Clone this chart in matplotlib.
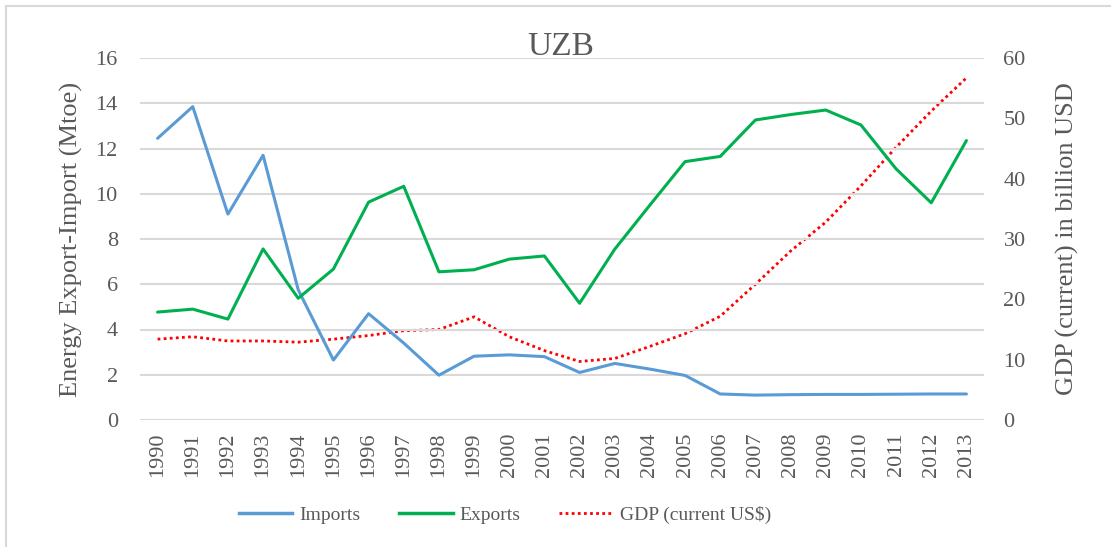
import matplotlib
matplotlib.use("Agg")
import matplotlib.pyplot as plt
from matplotlib.lines import Line2D

years = [str(y) for y in range(1990, 2014)]
imports = [12.45, 13.85, 9.1, 11.7, 5.75, 2.65, 4.7, 3.4, 1.98, 2.82, 2.88, 2.8,
           2.1, 2.5, 2.25, 1.97, 1.15, 1.1, 1.12, 1.13, 1.13, 1.14, 1.15, 1.15]
exports = [4.77, 4.9, 4.46, 7.56, 5.38, 6.67, 9.63, 10.33, 6.55, 6.64, 7.11, 7.25,
           5.16, 7.55, 9.5, 11.42, 11.65, 13.26, 13.5, 13.7, 13.04, 11.1, 9.6, 12.35]
gdp = [13.4, 13.8, 13.1, 13.1, 12.9, 13.4, 14.0, 14.8, 15.0, 17.1, 13.8, 11.5,
       9.7, 10.2, 12.2, 14.3, 17.2, 22.5, 28.0, 32.8, 38.8, 45.2, 51.2, 56.7]

left_ticks = [0, 2, 4, 6, 8, 10, 12, 14, 16]
right_ticks = [0, 10, 20, 30, 40, 50, 60]

plt.rcParams['font.family'] = ['Liberation Serif', 'DejaVu Serif']
txt = '#595959'

fig = plt.figure(figsize=(11.11, 5.47), dpi=100)
ax = fig.add_axes([140/1111, 1-420/547, (984-140)/1111, (420-58)/547])
ax2 = ax.twinx()

x = list(range(len(years)))
ax.plot(x, imports, color='#5B9BD5', lw=2.2, solid_capstyle='round', zorder=3)
ax.plot(x, exports, color='#00B050', lw=2.2, solid_capstyle='round', zorder=3)
ax2.plot(x, gdp, color='#FF0000', lw=2.0, linestyle=(0, (1, 1.2)), zorder=3)

ax.set_xlim(-0.5, len(years) - 0.5)
ax.set_ylim(0, 16)
ax2.set_ylim(0, 60)
ax.set_yticks(left_ticks)
ax2.set_yticks(right_ticks)
ax.set_xticks(x)
ax.set_xticklabels(years, rotation=90)
ax.grid(axis='y', color='#D9D9D9', lw=1.5)
ax.set_axisbelow(True)
for a in (ax, ax2):
    for s in a.spines.values():
        s.set_visible(False)
    a.tick_params(length=0, colors=txt, labelsize=16)
ax.tick_params(axis='y', pad=16)
ax.tick_params(axis='x', pad=9)
ax2.tick_params(axis='y', pad=14)
ax.set_zorder(ax2.get_zorder() + 1)
ax.patch.set_visible(False)

ax.set_ylabel('Energy Export-Import (Mtoe)', fontsize=19, color=txt)
ax2.set_ylabel('GDP (current) in billion USD', fontsize=19, color=txt)
ax.yaxis.set_label_coords(-(140-83)/844, 0.5)
ax2.yaxis.set_label_coords(1 + (1056-984)/844, 0.5)

fig.text(561/1111, 1-47/547, 'UZB', ha='center', va='center', fontsize=24, color=txt)

handles = [Line2D([], [], color='#5B9BD5', lw=2.5),
           Line2D([], [], color='#00B050', lw=2.5),
           Line2D([], [], color='#FF0000', lw=2.0, linestyle=(0, (1, 1.2)))]
labels = ['Imports', 'Exports', 'GDP (current US$)']
fig.legend(handles, labels, loc='center', bbox_to_anchor=(505/1111, 1-515/547),
           ncol=3, frameon=False, fontsize=14, handlelength=2.75, columnspacing=2.0,
           handletextpad=0.35, labelcolor=txt)

fig.add_artist(Line2D([6/1111, 1], [1-6/547, 1-6/547], color='#D9D9D9', lw=1.5))
fig.add_artist(Line2D([6/1111, 6/1111], [0, 1-6/547], color='#D9D9D9', lw=1.5))

fig.savefig('out.png', dpi=100)
